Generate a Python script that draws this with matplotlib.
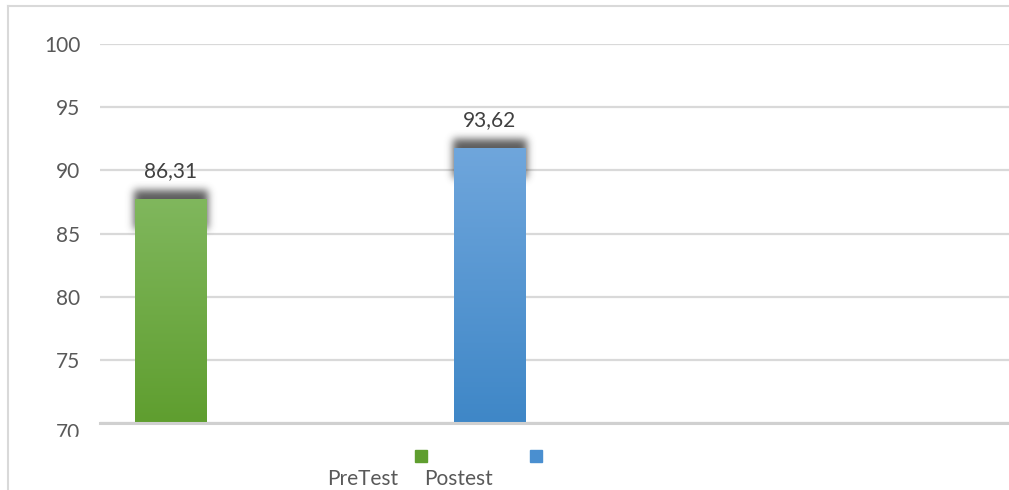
import numpy as np
import matplotlib
matplotlib.use("Agg")
import matplotlib.pyplot as plt
from matplotlib.patches import Rectangle
from matplotlib.colors import to_rgb

# Datos
categorias = ["PreTest", "Postest"]
valores = [87.75, 91.8]          # altura visible de las barras
etiquetas = ["86,31", "93,62"]   # etiquetas de datos tal como aparecen
color_arriba = ["#80b75d", "#6fa6dc"]
color_abajo = ["#5f9e2f", "#3f87c7"]

plt.rcParams["font.family"] = ["Lato", "DejaVu Sans"]
gris = "#595959"
fs = 15

W, H = 1009, 490
fig = plt.figure(figsize=(W / 100, H / 100), dpi=100)
ax = fig.add_axes([100 / W, 1 - 423 / H, 909 / W, 379 / H])

x = np.arange(len(categorias))
ancho = 0.226
ax.set_ylim(70, 100)
ax.set_yticks(np.arange(70, 101, 5))
ax.yaxis.grid(True, color="#d9d9d9", lw=1.6)
ax.set_axisbelow(True)
for s in ["top", "right", "left"]:
    ax.spines[s].set_visible(False)
ax.spines["bottom"].set_color("#d0d0d0")
ax.spines["bottom"].set_linewidth(2.2)
ax.spines["bottom"].set_zorder(5)
ax.set_xticks([])
ax.tick_params(axis="y", length=0, pad=14, labelsize=fs, labelcolor=gris)

# px -> unidades de datos
px_x = 1 / 318.5
px_y = 30 / 379


def sombra(xc, top):
    # sombra difusa sobre la parte superior de la barra
    m = 18
    nx, ny = 72 + 2 * m, 60
    img = np.zeros((ny, nx))
    img[m - 9:m + 30, m - 1:m + 73] = 1.0
    k = np.exp(-0.5 * (np.arange(-12, 13) / 4.0) ** 2)
    k /= k.sum()
    img = np.apply_along_axis(lambda r: np.convolve(r, k, mode="same"), 1, img)
    img = np.apply_along_axis(lambda c: np.convolve(c, k, mode="same"), 0, img)
    rgba = np.zeros((ny, nx, 4))
    rgba[..., :3] = 0.2
    rgba[..., 3] = img * 0.8
    ax.imshow(rgba, extent=[xc - (36 + m) * px_x, xc + (36 + m) * px_x,
                            top - (ny - m) * px_y, top + m * px_y],
              aspect="auto", zorder=2, interpolation="bilinear")


barras = ax.bar(x, [v - 70 for v in valores], bottom=70, width=ancho,
                color="none", zorder=3)
for i, b in enumerate(barras):
    sombra(x[i], valores[i])
    c1, c2 = np.array(to_rgb(color_arriba[i])), np.array(to_rgb(color_abajo[i]))
    t = np.linspace(0, 1, 100)[:, None]
    grad = (c1 * (1 - t) + c2 * t)[:, None, :]
    im = ax.imshow(grad, extent=[x[i] - ancho / 2, x[i] + ancho / 2, 70, valores[i]],
                   aspect="auto", zorder=3)
    im.set_clip_path(b)
    ax.annotate(etiquetas[i], (x[i], valores[i]), xytext=(0, 20),
                textcoords="offset points", ha="center", va="center",
                fontsize=fs, color="#404040", zorder=6)

ax.set_xlim(-0.223, -0.223 + 909 / 318.5)
ax.set_ylim(70, 100)

# etiqueta 70 recortada como en el original
ax.get_yticklabels()[0].set_verticalalignment("top")
fig.patches.append(Rectangle((30 / W, 1 - 448 / H), 60 / W, 11 / H,
                             transform=fig.transFigure, color="white", zorder=10))

# leyenda
for i, (xl, xt) in enumerate([(415, 363), (530, 458)]):
    fig.patches.append(Rectangle((xl / W, 1 - 462 / H), 12 / W, 12 / H,
                                 transform=fig.transFigure,
                                 color=color_abajo[i] if i == 0 else "#4a8fd0"))
    fig.text(xt / W, 1 - 479 / H, categorias[i], ha="center", va="center",
             fontsize=fs, color=gris)

# marco
fig.add_artist(plt.Line2D([8 / W, 8 / W], [0, 1 - 6 / H], color="#d9d9d9", lw=1.5))
fig.add_artist(plt.Line2D([8 / W, 1], [1 - 6 / H, 1 - 6 / H], color="#d9d9d9", lw=1.5))

fig.savefig("out.png", dpi=100)
